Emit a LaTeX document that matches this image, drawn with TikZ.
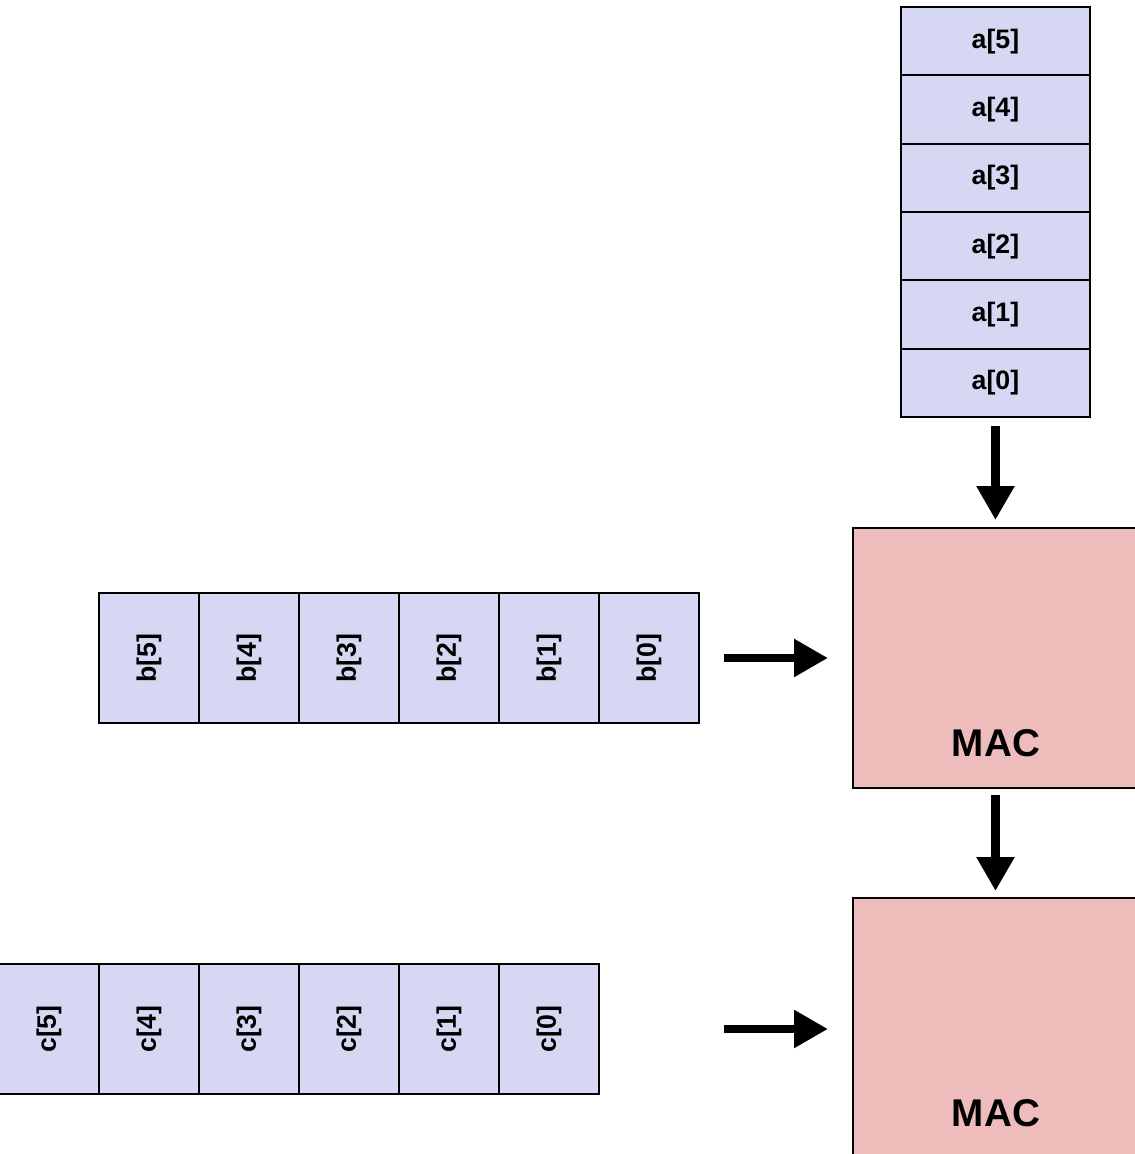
\documentclass[tikz,border=0pt]{standalone}
\usepackage{fontspec}
\setmainfont{Liberation Sans}
\usetikzlibrary{arrows.meta}
\definecolor{cellblue}{RGB}{214,215,243}
\definecolor{macpink}{RGB}{239,188,188}
\begin{document}
\begin{tikzpicture}[x=0.02cm,y=-0.02cm,
 cell/.style={draw=black, line width=0.04cm, fill=cellblue, inner sep=0pt, font=\bfseries\fontsize{15.2}{17}\selectfont},
 acell/.style={cell, minimum width=3.78cm, minimum height=1.367cm, anchor=north west},
 hcell/.style={cell, minimum width=2cm, minimum height=2.6cm, anchor=north west},
 mac/.style={draw=black, line width=0.04cm, fill=macpink, minimum width=5.72cm, minimum height=5.2cm, anchor=north west, inner sep=0pt},
 maclbl/.style={anchor=center, yshift=0.92cm, font=\bfseries\fontsize{22}{26}\selectfont},
 flow/.style={line width=0.17cm, -{Triangle[width=0.72cm,length=0.68cm]}}
]
\useasboundingbox (0,0) rectangle (1134,1154);
% a stack
\node[acell] (a5) at (900,6) {a[5]};
\node[acell] (a4) at (900,74.33) {a[4]};
\node[acell] (a3) at (900,142.67) {a[3]};
\node[acell] (a2) at (900,211) {a[2]};
\node[acell] (a1) at (900,279.33) {a[1]};
\node[acell] (a0) at (900,347.67) {a[0]};
% MAC boxes
\node[mac, label={[maclbl]south:MAC}] (mac1) at (852,527) {};
\node[mac, label={[maclbl]south:MAC}] (mac2) at (852,897) {};
% b row
\node[hcell] (b5) at (98,592) {\rotatebox{90}{b[5]}};
\node[hcell] (b4) at (198,592) {\rotatebox{90}{b[4]}};
\node[hcell] (b3) at (298,592) {\rotatebox{90}{b[3]}};
\node[hcell] (b2) at (398,592) {\rotatebox{90}{b[2]}};
\node[hcell] (b1) at (498,592) {\rotatebox{90}{b[1]}};
\node[hcell] (b0) at (598,592) {\rotatebox{90}{b[0]}};
% c row
\node[hcell] (c5) at (-2,963) {\rotatebox{90}{c[5]}};
\node[hcell] (c4) at (98,963) {\rotatebox{90}{c[4]}};
\node[hcell] (c3) at (198,963) {\rotatebox{90}{c[3]}};
\node[hcell] (c2) at (298,963) {\rotatebox{90}{c[2]}};
\node[hcell] (c1) at (398,963) {\rotatebox{90}{c[1]}};
\node[hcell] (c0) at (498,963) {\rotatebox{90}{c[0]}};
% arrows
\draw[flow, shorten <=0.16cm, shorten >=0.14cm] (a0.south) -- (a0.south |- mac1.north);
\draw[flow, shorten <=0.48cm, shorten >=0.48cm] (b0.east) -- (b0.east -| mac1.west);
\draw[flow, shorten <=0.12cm, shorten >=0.12cm] (a0.south |- mac1.south) -- (a0.south |- mac2.north);
\draw[flow, shorten <=2.48cm, shorten >=0.48cm] (c0.east) -- (c0.east -| mac2.west);
\end{tikzpicture}
\end{document}
